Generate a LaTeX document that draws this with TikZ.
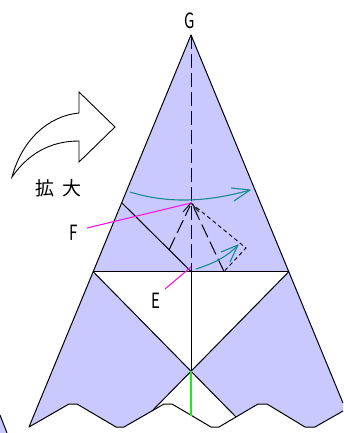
\documentclass[tikz,border=0pt]{standalone}
\usepackage{fontspec}
\setmainfont{Noto Sans CJK JP}
\definecolor{lav}{HTML}{C9C9FF}
\definecolor{teal2}{HTML}{1A8A8C}
\definecolor{mag}{HTML}{F01AE0}
\definecolor{grn}{HTML}{22E622}
\tikzset{
 edge/.style={draw=black,line width=1pt,line join=round},
 longd/.style={black,line width=1pt,dash pattern=on 14pt off 5pt},
 shortd/.style={black,line width=.9pt,dash pattern=on 4pt off 3pt},
 tealline/.style={teal2,line width=1.1pt},
 magline/.style={mag,line width=1.1pt},
 lab/.style={font=\fontsize{21}{21}\selectfont,inner sep=0pt,xscale=.72,transform shape}
}
\begin{document}
\begin{tikzpicture}[x=1pt,y=-1pt]
\useasboundingbox (0,0) rectangle (343,433);
% main lavender flaps
\fill[lav] (191,35) -- (93,271.5) -- (289,271.5) -- cycle;
\fill[lav] (93,271.5) -- (191,370.5) -- (152,411) -- (124,427) -- (116,427) -- (77,404) -- (69,404) -- (29,427) -- cycle;
\fill[lav] (289,271.5) -- (191,370.5) -- (236,417) -- (258,404) -- (267,404) -- (305,427) -- (315,427) -- (343,411) -- (343,403) -- cycle;
% bottom left scrap
\fill[lav] (0,415) -- (7,433) -- (0,433) -- cycle;
\draw[edge] (0,415) -- (7,433);
% outline
\draw[edge] (343,403) -- (191,35) -- (29,427) -- (69,404) -- (77,404) -- (116,427) -- (124,427) -- (164,404) -- (172,404) -- (211,427) -- (219,427) -- (258,404) -- (267,404) -- (305,427) -- (315,427) -- (343,411);
\draw[edge] (93,271.5) -- (289,271.5);
\draw[edge] (93,271.5) -- (236,417);
\draw[edge] (289,271.5) -- (152,411);
\draw[edge] (122,203) -- (191,271.5);
\draw[edge] (191,271.5) -- (191,370.5);
\draw[grn,line width=1.5pt] (191,370.5) -- (191,416);
% fold lines
\draw[longd] (191,35) -- (191,271.5);
\draw[longd] (169,250) -- (190,206);
\draw[longd] (224,271.5) -- (193,206);
\draw[black,line width=.9pt] (183,212) -- (191,203) -- (199,212);
\draw[shortd] (191,203) -- (246,248) -- (224,271.5);
% teal arrows
\draw[tealline] (130,192) .. controls (165,203) and (205,203) .. (250,190);
\draw[tealline,line join=round] (231,188) -- (250,190) -- (234,201);
\draw[tealline] (196,269) .. controls (215,263) and (228,256) .. (238,245);
\draw[tealline,line join=round] (221,252) -- (238,245) -- (230,262);
% magenta leaders
\draw[magline] (87,228) -- (191,203);
\draw[magline] (165,289) -- (191,267);
% big arrow
\draw[black,line width=.9pt,fill=white,line join=miter] (12,177) .. controls (22,140) and (48,116) .. (79,113) -- (79,92) -- (115,127) -- (79,162) -- (79,141) .. controls (50,141) and (28,154) .. (12,177) -- cycle;
% labels
\node[lab] (g) at (190,21) {G};
\node[lab] (f) at (74,233) {F};
\node[lab] (e) at (156,301) {E};
\node[font=\fontsize{19}{19}\selectfont,inner sep=0pt] (k) at (58,188) {拡\hspace{8pt}大};
\end{tikzpicture}
\end{document}
